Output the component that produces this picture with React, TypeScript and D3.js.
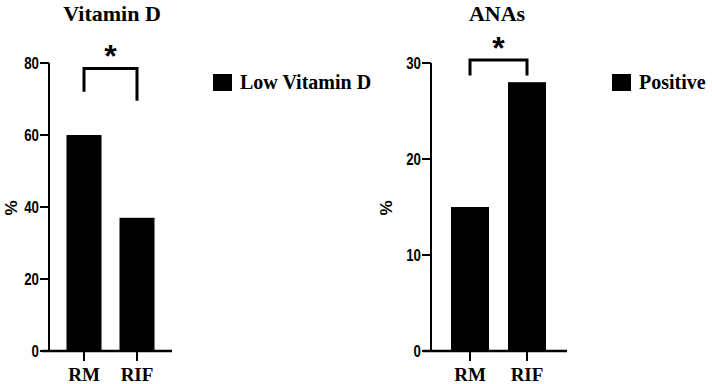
import React from "react";
import { scaleLinear, scalePoint } from "d3";

const categories = ["RM", "RIF"];

const vitDValues = [60, 37];
const vitDTicks = [0, 20, 40, 60, 80];

const anaValues = [15, 28];
const anaTicks = [0, 10, 20, 30];

const W = 712;
const H = 384;

const SERIF = "Liberation Serif";
const SANS = "Liberation Sans";

type PanelProps = {
  title: string;
  legend: string;
  values: number[];
  ticks: number[];
  yMax: number;
  axisX: number;
  axisX0: number;
  axisX1: number;
  cx: [number, number];
  barW: number;
  titleX: number;
  pctX: number;
  legendX: number;
  bracket: { top: number; left: number; right: number };
};

const Panel: React.FC<PanelProps> = p => {
  const y = scaleLinear().domain([0, p.yMax]).range([351, 63]);
  const x = scalePoint<string>().domain(categories).range(p.cx);
  const bx0 = x(categories[0])!;
  const bx1 = x(categories[1])!;
  const bt = y(p.bracket.top);

  return (
    <g>
      <text x={p.titleX} y={21} textAnchor="middle" fontFamily={SERIF} fontWeight="bold" fontSize={22}>
        {p.title}
      </text>

      {p.values.map((v, i) => (
        <rect
          key={i}
          x={x(categories[i])! - p.barW / 2}
          y={y(v)}
          width={p.barW}
          height={y(0) - y(v)}
          fill="#000"
        />
      ))}

      {/* y axis */}
      <line x1={p.axisX} x2={p.axisX} y1={y(p.yMax)} y2={y(0)} stroke="#000" strokeWidth={2} />
      {p.ticks.map(t => (
        <g key={t} transform={`translate(${p.axisX - 10}, ${y(t)})`}>
          <line x1={1} x2={10} stroke="#000" strokeWidth={2} />
          <text
            transform="scale(0.78,1)"
            dy="0.36em"
            textAnchor="end"
            fontFamily={SANS}
            fontWeight="bold"
            fontSize={17}
          >
            {t}
          </text>
        </g>
      ))}

      {/* x axis */}
      <line x1={p.axisX0} x2={p.axisX1} y1={y(0)} y2={y(0)} stroke="#000" strokeWidth={2.5} />
      {categories.map(c => (
        <g key={c} transform={`translate(${x(c)}, ${y(0)})`}>
          <line y1={0} y2={10} stroke="#000" strokeWidth={2} />
          <text y={30} textAnchor="middle" fontFamily={SERIF} fontWeight="bold" fontSize={19}>
            {c}
          </text>
        </g>
      ))}

      <text
        transform={`translate(${p.pctX}, 208) rotate(-90)`}
        textAnchor="middle"
        dy="0.35em"
        fontFamily={SANS}
        fontWeight="bold"
        fontSize={17}
      >
        %
      </text>

      {/* significance bracket */}
      <path
        d={`M${bx0},${y(p.bracket.left)}V${bt}H${bx1}V${y(p.bracket.right)}`}
        fill="none"
        stroke="#000"
        strokeWidth={3}
      />
      <text x={(bx0 + bx1) / 2} y={bt - 1} textAnchor="middle" fontFamily={SANS} fontWeight="bold" fontSize={32}>
        *
      </text>

      {/* legend */}
      <rect x={p.legendX} y={74} width={19} height={17} fill="#000" />
      <text x={p.legendX + 27} y={89} fontFamily={SERIF} fontWeight="bold" fontSize={20}>
        {p.legend}
      </text>
    </g>
  );
};

export default function App() {
  return (
    <svg width={W} height={H} style={{ position: "absolute", left: 0, top: 0, background: "#fff" }}>
      <Panel
        title="Vitamin D"
        legend="Low Vitamin D"
        values={vitDValues}
        ticks={vitDTicks}
        yMax={80}
        axisX={49}
        axisX0={42}
        axisX1={172}
        cx={[84, 137]}
        barW={35}
        titleX={112}
        pctX={11}
        legendX={213}
        bracket={{ top: 78.5, left: 72, right: 69.5 }}
      />
      <Panel
        title="ANAs"
        legend="Positive"
        values={anaValues}
        ticks={anaTicks}
        yMax={30}
        axisX={431}
        axisX0={423}
        axisX1={567}
        cx={[470, 527]}
        barW={38}
        titleX={497}
        pctX={386}
        legendX={612}
        bracket={{ top: 30.3, left: 28.7, right: 28.7 }}
      />
    </svg>
  );
}
